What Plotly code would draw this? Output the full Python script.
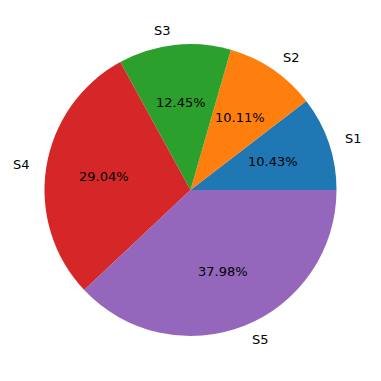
import math
import plotly.graph_objects as go

labels = ["S1", "S2", "S3", "S4", "S5"]
values = [10.43, 10.11, 12.45, 29.04, 37.98]
colors = ["#1f77b4", "#ff7f0e", "#2ca02c", "#d62728", "#9467bd"]

W = H = 381
cx_px, cy_px, r_px = 190.5, 190.0, 146.0

xd = [(cx_px - r_px) / W, (cx_px + r_px) / W]
yd = [(H - cy_px - r_px) / H, (H - cy_px + r_px) / H]

total = sum(values)
# plotly's counterclockwise layout offsets the start by the first slice
rot = 90 - 360 * values[0] / total

fig = go.Figure(go.Pie(
    labels=labels, values=values, sort=False,
    direction="counterclockwise", rotation=rot,
    marker=dict(colors=colors, line=dict(width=0)),
    textinfo="none", hoverinfo="label+percent",
    domain=dict(x=xd, y=yd), showlegend=False,
))

cx = cx_px / W
cy = (H - cy_px) / H
r = r_px / W
ann = []
cum = 0.0
font = dict(family="DejaVu Sans", size=13, color="black")
for lab, v in zip(labels, values):
    mid = 2 * math.pi * (cum + v / 2) / total
    cum += v
    c, s = math.cos(mid), math.sin(mid)
    ann.append(dict(x=cx + 0.6 * r * c, y=cy + 0.6 * r * s, xref="paper", yref="paper",
                    text=f"{100 * v / total:.2f}%", showarrow=False,
                    xanchor="center", yanchor="middle", font=font))
    ann.append(dict(x=cx + 1.1 * r * c, y=cy + 1.1 * r * s, xref="paper", yref="paper",
                    text=lab, showarrow=False,
                    xanchor="left" if c > 0 else "right", yanchor="middle", font=font))

fig.update_layout(width=W, height=H, margin=dict(l=0, r=0, t=0, b=0),
                  paper_bgcolor="white", plot_bgcolor="white", annotations=ann)
fig.write_html("out.html")
